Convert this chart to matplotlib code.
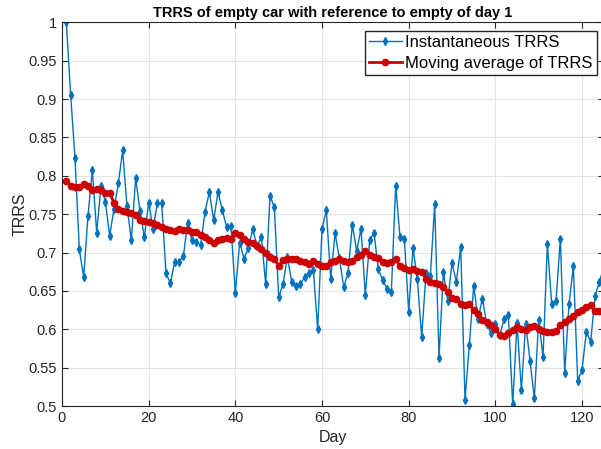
import matplotlib.pyplot as plt
import numpy as np

plt.rcParams['font.family'] = ['Liberation Sans', 'DejaVu Sans']

days = np.arange(1, 126)

trrs = [
    1.000, 0.905, 0.823, 0.704, 0.668, 0.748, 0.807, 0.726, 0.787, 0.766,
    0.722, 0.757, 0.790, 0.833, 0.760, 0.716, 0.797, 0.754, 0.720, 0.765,
    0.731, 0.764, 0.764, 0.673, 0.660, 0.688, 0.688, 0.695, 0.739, 0.716,
    0.714, 0.710, 0.753, 0.779, 0.742, 0.779, 0.755, 0.733, 0.734, 0.647,
    0.713, 0.692, 0.706, 0.730, 0.709, 0.720, 0.659, 0.774, 0.759, 0.642,
    0.659, 0.694, 0.662, 0.657, 0.659, 0.668, 0.673, 0.677, 0.600, 0.731,
    0.755, 0.666, 0.725, 0.693, 0.655, 0.673, 0.736, 0.702, 0.731, 0.644,
    0.716, 0.726, 0.678, 0.664, 0.653, 0.649, 0.787, 0.720, 0.718, 0.623,
    0.706, 0.665, 0.590, 0.673, 0.669, 0.763, 0.563, 0.675, 0.637, 0.686,
    0.662, 0.707, 0.508, 0.580, 0.657, 0.613, 0.640, 0.607, 0.595, 0.607,
    0.592, 0.613, 0.618, 0.502, 0.608, 0.521, 0.607, 0.559, 0.510, 0.612,
    0.564, 0.711, 0.633, 0.637, 0.718, 0.543, 0.633, 0.682, 0.533, 0.547,
    0.597, 0.584, 0.643, 0.662, 0.680,
]

trrs_avg = [
    0.793, 0.787, 0.785, 0.786, 0.789, 0.787, 0.782, 0.783, 0.781, 0.778,
    0.777, 0.765, 0.757, 0.754, 0.753, 0.752, 0.749, 0.743, 0.741, 0.740,
    0.738, 0.736, 0.733, 0.731, 0.729, 0.728, 0.731, 0.729, 0.729, 0.727,
    0.727, 0.723, 0.720, 0.716, 0.713, 0.716, 0.718, 0.719, 0.718, 0.725,
    0.723, 0.717, 0.714, 0.712, 0.708, 0.705, 0.699, 0.694, 0.691, 0.683,
    0.690, 0.692, 0.691, 0.692, 0.689, 0.687, 0.685, 0.689, 0.685, 0.682,
    0.683, 0.687, 0.689, 0.691, 0.689, 0.688, 0.689, 0.694, 0.697, 0.702,
    0.697, 0.694, 0.693, 0.688, 0.686, 0.687, 0.691, 0.682, 0.680, 0.677,
    0.679, 0.676, 0.675, 0.666, 0.662, 0.660, 0.659, 0.655, 0.649, 0.641,
    0.640, 0.633, 0.631, 0.633, 0.625, 0.620, 0.612, 0.610, 0.605, 0.600,
    0.592, 0.591, 0.595, 0.599, 0.603, 0.600, 0.599, 0.603, 0.604, 0.600,
    0.598, 0.597, 0.596, 0.598, 0.605, 0.610, 0.614, 0.617, 0.623, 0.625,
    0.629, 0.631, 0.624, 0.624, 0.624,
]

yticks = [0.5, 0.55, 0.6, 0.65, 0.7, 0.75, 0.8, 0.85, 0.9, 0.95, 1.0]
ytick_labels = ['0.5', '0.55', '0.6', '0.65', '0.7', '0.75', '0.8', '0.85', '0.9', '0.95', '1']


def main():
    fig = plt.figure(figsize=(6.01, 4.49), dpi=100)
    ax = fig.add_axes([62 / 601, 1 - 406 / 449, 541.7 / 601, 383.7 / 449])

    ax.plot(days, trrs, color='#0072BD', marker='d', markersize=4,
            linewidth=1.0, label='Instantaneous TRRS')
    ax.plot(days, trrs_avg, color='#CC0000', marker='o', markersize=4.5,
            linewidth=2.0, label='Moving average of TRRS')

    ax.set_xlim(0, 125)
    ax.set_ylim(0.5, 1.0)
    ax.set_xticks([0, 20, 40, 60, 80, 100, 120])
    ax.set_yticks(yticks)
    ax.set_yticklabels(ytick_labels)
    ax.tick_params(direction='in', top=True, right=True, labelsize=10.5,
                   colors='#262626', length=4)
    for s in ax.spines.values():
        s.set_color('#262626')

    ax.grid(True, color='#e3e3e3', linewidth=0.8)
    ax.set_axisbelow(True)

    ax.set_xlabel('Day', fontsize=11.5, color='#262626', labelpad=4)
    ax.set_ylabel('TRRS', fontsize=11.5, color='#262626', labelpad=1)
    ax.set_title('TRRS of empty car with reference to empty of day 1',
                 fontsize=10.5, fontweight='bold', pad=4)

    ax.legend(loc='upper right', bbox_to_anchor=(597 / 601, 1 - 31 / 449),
              bbox_transform=fig.transFigure, borderaxespad=0, fontsize=12,
              fancybox=False, edgecolor='#262626', framealpha=1,
              handlelength=2.0, borderpad=0.25, labelspacing=0.35,
              handletextpad=0.2)

    fig.savefig('out.png', dpi=100)


if __name__ == '__main__':
    main()
